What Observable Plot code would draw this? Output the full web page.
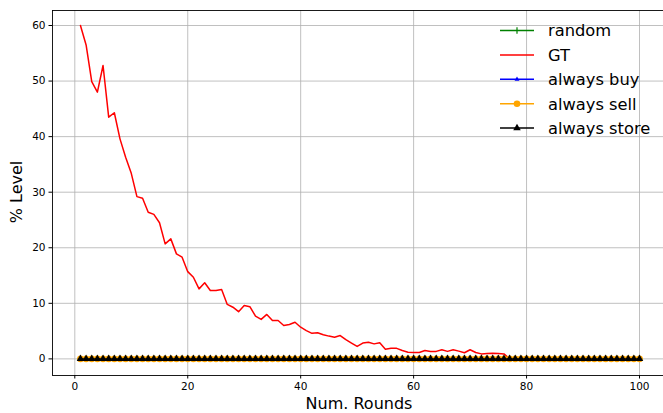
<!DOCTYPE html>
<html>
<head>
<meta charset="utf-8">
<script src="https://cdn.jsdelivr.net/npm/d3@7"></script>
<script src="https://cdn.jsdelivr.net/npm/@observablehq/plot@0.6"></script>
<style>
  html, body { margin: 0; padding: 0; background: white; }
  #wrap { position: relative; width: 663px; height: 413px; overflow: hidden; font-family: "DejaVu Sans", sans-serif; }
  #overlay { position: absolute; left: 0; top: 0; pointer-events: none; }
</style>
</head>
<body>
<div id="wrap"></div>
<script>
// ---- data ----
const rounds = Array.from({length: 100}, (_, i) => i + 1);
const gtValues = [
  60.0, 56.5, 49.9, 48.0, 52.8, 43.5, 44.3, 39.6, 36.3, 33.4,
  29.2, 28.9, 26.4, 26.0, 24.5, 20.7, 21.6, 18.9, 18.3, 15.7,
  14.7, 12.6, 13.7, 12.3, 12.3, 12.5, 9.8, 9.3, 8.5, 9.6,
  9.4, 7.7, 7.1, 8.0, 6.9, 6.9, 6.0, 6.2, 6.6, 5.7,
  5.1, 4.6, 4.7, 4.35, 4.1, 3.9, 4.2, 3.45, 2.85, 2.25,
  2.85, 3.0, 2.7, 2.9, 1.75, 1.9, 1.9, 1.5, 1.2, 1.15,
  1.15, 1.5, 1.35, 1.35, 1.65, 1.35, 1.65, 1.4, 1.1, 1.65,
  1.15, 0.9, 0.95, 1.0, 0.95, 0.9, 0, 0, 0, 0,
  0, 0, 0, 0, 0, 0, 0, 0, 0, 0,
  0, 0, 0, 0, 0, 0, 0, 0, 0, 0
];
const randomValues = rounds.map(() => 0);
const buyValues = rounds.map(() => 0);
const sellValues = rounds.map(() => 0);
const storeValues = rounds.map(() => 0);

const seriesNames = ["random", "GT", "always buy", "always sell", "always store"];
const seriesColors = ["green", "red", "blue", "orange", "black"];
const xTicks = [0, 20, 40, 60, 80, 100];
const yTicks = [0, 10, 20, 30, 40, 50, 60];
const xLabel = "Num. Rounds";
const yLabel = "% Level";

const toRows = (vals) => rounds.map((r, i) => ({round: r, value: vals[i]}));
const randomRows = toRows(randomValues);
const gtRows = toRows(gtValues);
const buyRows = toRows(buyValues);
const sellRows = toRows(sellValues);
const storeRows = toRows(storeValues);

// ---- chart ----
const W = 663, H = 413;
const chart = Plot.plot({
  width: W,
  height: H,
  marginLeft: 52,
  marginRight: 0,
  marginTop: 10,
  marginBottom: 38,
  style: {fontFamily: "DejaVu Sans", fontSize: "10.5px", background: "white", color: "black"},
  x: {domain: [-3.95, 104.25], ticks: xTicks},
  y: {domain: [-2.99, 62.7], ticks: yTicks},
  marks: [
    Plot.gridX(xTicks, {stroke: "#b0b0b0", strokeOpacity: 1, strokeWidth: 0.8}),
    Plot.gridY(yTicks, {stroke: "#b0b0b0", strokeOpacity: 1, strokeWidth: 0.8}),
    Plot.axisX({ticks: xTicks, tickSize: 3.5, tickPadding: 3.5, label: null, fontSize: 10.5}),
    Plot.axisY({ticks: yTicks, tickSize: 3.5, tickPadding: 3.5, label: null, fontSize: 10.5}),
    // random
    Plot.line(randomRows, {x: "round", y: "value", stroke: seriesColors[0], strokeWidth: 1.5}),
    Plot.dot(randomRows, {x: "round", y: "value", symbol: "plus", stroke: seriesColors[0], strokeWidth: 1.2, r: 2.2}),
    // GT
    Plot.line(gtRows, {x: "round", y: "value", stroke: seriesColors[1], strokeWidth: 1.5}),
    // always buy
    Plot.line(buyRows, {x: "round", y: "value", stroke: seriesColors[2], strokeWidth: 1.5}),
    Plot.dot(buyRows, {x: "round", y: "value", symbol: "triangle", fill: seriesColors[2], r: 1.8}),
    // always sell
    Plot.line(sellRows, {x: "round", y: "value", stroke: seriesColors[3], strokeWidth: 1.5}),
    Plot.dot(sellRows, {x: "round", y: "value", symbol: "circle", fill: seriesColors[3], r: 3.3}),
    // always store
    Plot.line(storeRows, {x: "round", y: "value", stroke: seriesColors[4], strokeWidth: 1.5}),
    Plot.dot(storeRows, {x: "round", y: "value", symbol: "triangle", fill: seriesColors[4], r: 2.8}),
    // spines
    Plot.ruleX([-3.95], {stroke: "black", strokeWidth: 0.9}),
    Plot.ruleY([-2.99, 62.7], {stroke: "black", strokeWidth: 0.9})
  ]
});

const wrap = document.getElementById("wrap");
wrap.appendChild(chart);

// ---- overlay: axis labels & legend ----
const ns = "http://www.w3.org/2000/svg";
const ov = document.createElementNS(ns, "svg");
ov.setAttribute("id", "overlay");
ov.setAttribute("width", W);
ov.setAttribute("height", H);
ov.setAttribute("font-family", "DejaVu Sans");
wrap.appendChild(ov);

function txt(str, attrs) {
  const t = document.createElementNS(ns, "text");
  for (const k in attrs) t.setAttribute(k, attrs[k]);
  t.textContent = str;
  ov.appendChild(t);
  return t;
}
txt(xLabel, {x: 359, y: 409, "text-anchor": "middle", "font-size": 16, fill: "black"});
txt(yLabel, {transform: "translate(22,192) rotate(-90)", "text-anchor": "middle", "font-size": 16, fill: "black"});

const legendSymbols = ["plus", null, "triangle", "circle", "triangle"];
const legendR = [2.2, 0, 1.8, 3.3, 2.8];
const symMap = {plus: d3.symbolPlus, triangle: d3.symbolTriangle, circle: d3.symbolCircle};
seriesNames.forEach((name, i) => {
  const cy = 30.5 + i * 24.4;
  const ln = document.createElementNS(ns, "line");
  ln.setAttribute("x1", 500); ln.setAttribute("x2", 534);
  ln.setAttribute("y1", cy); ln.setAttribute("y2", cy);
  ln.setAttribute("stroke", seriesColors[i]); ln.setAttribute("stroke-width", 1.5);
  ov.appendChild(ln);
  if (legendSymbols[i]) {
    const p = document.createElementNS(ns, "path");
    const r = legendR[i];
    p.setAttribute("d", d3.symbol(symMap[legendSymbols[i]], Math.PI * r * r)());
    p.setAttribute("transform", `translate(517,${cy})`);
    if (legendSymbols[i] === "plus") {
      p.setAttribute("fill", "none");
      p.setAttribute("stroke", seriesColors[i]);
      p.setAttribute("stroke-width", 1.2);
    } else {
      p.setAttribute("fill", seriesColors[i]);
    }
    ov.appendChild(p);
  }
  txt(name, {x: 548, y: cy + 5.9, "font-size": 16.3, fill: "black"});
});
</script>
</body>
</html>
